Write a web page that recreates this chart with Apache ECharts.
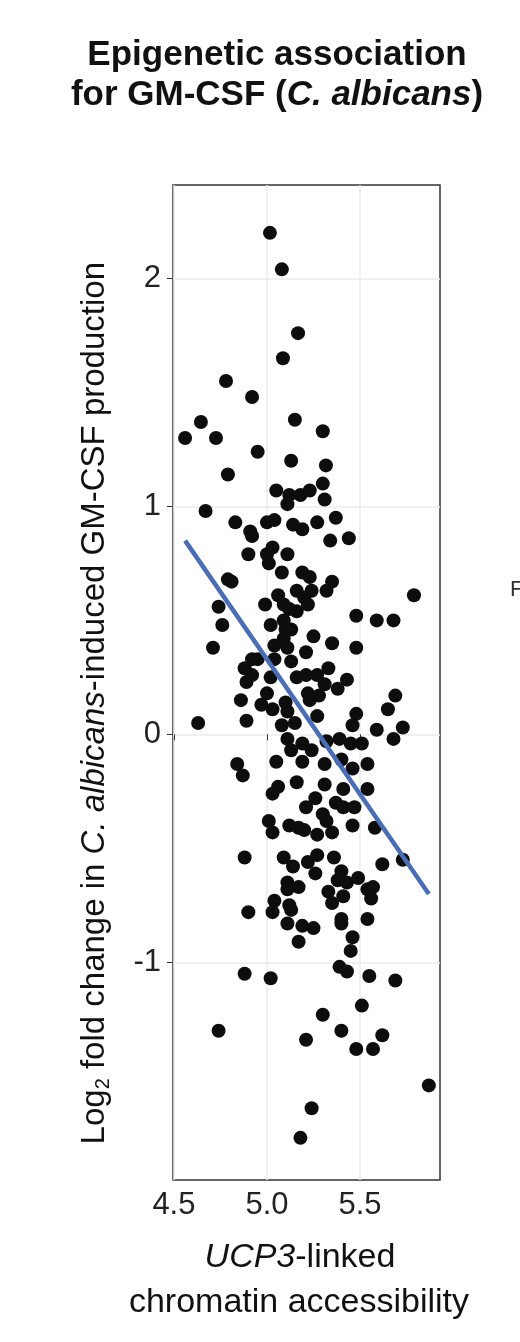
<!DOCTYPE html>
<html><head><meta charset="utf-8">
<script src="https://cdn.jsdelivr.net/npm/echarts@6/dist/echarts.min.js"></script>
<style>html,body{margin:0;padding:0;background:#fff}#c{width:520px;height:1342px}</style>
</head><body><div id="c"></div>
<script>
const xs = [5.016,5.08,5.167,5.086,4.78,4.92,4.645,4.56,4.726,5.15,5.30,4.95,5.13,5.317,4.79,5.05,5.12,5.18,5.23,5.30,5.31,5.11,4.67,
4.83,4.91,4.92,5.00,5.04,5.14,5.19,5.27,5.37,5.34,5.44,4.90,5.00,5.03,5.11,5.01,5.08,5.19,5.23,5.35,4.79,4.81,5.16,5.24,5.32,5.06,5.20,5.22,4.99,5.09,5.12,5.16,4.74,5.79,5.48,5.59,5.68,4.76,5.02,5.09,5.10,5.13,5.09,5.25,5.35,4.71,5.04,5.11,5.21,5.48,4.95,4.92,5.04,5.13,4.88,4.92,4.89,5.02,5.16,5.21,5.27,5.33,5.43,5.31,5.38,5.22,5.00,4.86,5.23,5.28,5.69,4.97,5.10,5.03,5.11,5.65,5.48,5.27,4.63,4.89,5.08,5.15,5.46,5.59,5.73,5.11,5.68,5.19,5.32,5.39,5.45,5.51,5.13,5.24,4.84,4.87,5.05,5.19,5.31,5.40,5.46,5.54,5.16,5.06,5.03,5.31,5.41,5.54,5.26,5.21,5.37,5.41,5.47,5.30,5.32,5.01,5.03,5.12,5.17,5.20,5.27,5.35,5.46,5.58,
4.88,5.09,5.14,5.22,5.27,5.26,5.36,5.40,5.38,5.43,5.49,5.62,5.73,5.11,5.11,5.17,5.33,5.41,5.35,5.54,5.56,5.57,5.04,5.12,5.13,4.90,5.03,5.11,5.19,5.25,5.40,5.40,5.54,5.17,5.46,5.45,5.39,5.43,5.55,5.69,4.88,5.02,5.51,5.30,4.74,5.21,5.40,5.48,5.57,5.62,5.87,5.24,5.18];
const ys = [2.20,2.04,1.76,1.65,1.55,1.48,1.37,1.30,1.30,1.38,1.33,1.24,1.20,1.18,1.14,1.07,1.05,1.05,1.07,1.10,1.03,1.01,0.98,
0.93,0.89,0.87,0.93,0.94,0.92,0.90,0.93,0.95,0.85,0.86,0.79,0.79,0.82,0.79,0.75,0.71,0.71,0.69,0.67,0.68,0.67,0.63,0.63,0.63,0.61,0.60,0.57,0.57,0.57,0.55,0.54,0.56,0.61,0.52,0.50,0.50,0.48,0.48,0.50,0.46,0.46,0.42,0.43,0.40,0.38,0.39,0.38,0.36,0.38,0.33,0.33,0.33,0.32,0.29,0.26,0.23,0.25,0.25,0.26,0.26,0.29,0.24,0.22,0.20,0.18,0.18,0.15,0.15,0.17,0.17,0.13,0.14,0.11,0.10,0.11,0.09,0.08,0.05,0.06,0.04,0.05,0.04,0.02,0.03,-0.02,-0.02,-0.04,-0.03,-0.02,-0.04,-0.04,-0.07,-0.07,-0.13,-0.18,-0.12,-0.12,-0.13,-0.11,-0.15,-0.13,-0.21,-0.23,-0.26,-0.22,-0.24,-0.24,-0.28,-0.32,-0.30,-0.32,-0.32,-0.35,-0.38,-0.38,-0.43,-0.40,-0.41,-0.42,-0.44,-0.43,-0.40,-0.41,
-0.54,-0.54,-0.58,-0.56,-0.53,-0.61,-0.54,-0.60,-0.64,-0.65,-0.63,-0.57,-0.55,-0.65,-0.68,-0.67,-0.69,-0.71,-0.74,-0.68,-0.72,-0.67,-0.73,-0.75,-0.77,-0.78,-0.78,-0.83,-0.84,-0.85,-0.81,-0.83,-0.81,-0.91,-0.89,-0.95,-1.02,-1.04,-1.06,-1.08,-1.05,-1.07,-1.19,-1.23,-1.30,-1.34,-1.30,-1.38,-1.38,-1.32,-1.54,-1.64,-1.77];
const fitX = [4.56, 5.87];
const fitY = [0.85, -0.70];
const xTicks = [4.5, 5.0, 5.5];
const yTicks = [-1, 0, 1, 2];

const chart = echarts.init(document.getElementById('c'), null, {renderer:'canvas'});
const F = 'Liberation Sans, Arial, sans-serif';
chart.setOption({
  backgroundColor:'#fff',
  animation:false,
  title:{
    text:'Epigenetic association\nfor GM-CSF ({i|C. albicans})',
    left:272, top:30, textAlign:'center',
    textStyle:{fontFamily:F,fontSize:35,fontWeight:'bold',color:'#111',lineHeight:40,
      rich:{i:{fontFamily:F,fontSize:35,fontWeight:'bold',fontStyle:'italic',color:'#111',lineHeight:40}}}
  },
  grid:{left:173,right:80,top:185,bottom:162,show:true,borderColor:'#333',borderWidth:1.5,backgroundColor:'#fff'},
  xAxis:{type:'value',min:4.495,max:5.93,interval:0.25,
    axisLine:{show:false},axisTick:{show:true,length:6,lineStyle:{color:'#333'},customValues:xTicks},
    splitLine:{show:true,lineStyle:{color:'#ebebeb',width:1.5}},
    axisLabel:{customValues:xTicks,formatter:v=>v.toFixed(1),fontFamily:F,fontSize:31,color:'#222',margin:10}},
  yAxis:{type:'value',min:-1.955,max:2.41,
    axisLine:{show:false},axisTick:{show:true,length:6,lineStyle:{color:'#333'},customValues:yTicks},
    splitLine:{show:true,lineStyle:{color:'#ebebeb',width:1.5}},
    axisLabel:{customValues:yTicks,fontFamily:F,fontSize:31,color:'#222',margin:12}},
  series:[
    {type:'scatter',data:xs.map((x,i)=>[x,ys[i]]),symbolSize:14,itemStyle:{color:'#0d0d0d',opacity:1},z:2},
    {type:'line',data:fitX.map((x,i)=>[x,fitY[i]]),symbol:'none',lineStyle:{color:'#4a6db4',width:4.5},z:3}
  ],
  graphic:[
    {type:'text',left:78,top:262,rotation:Math.PI/2,
      style:{text:'Log{s|2} fold change in {i|C. albicans}-induced GM-CSF production',
        font:'33px '+F,fill:'#111',
        rich:{s:{fontSize:20,fontFamily:F,verticalAlign:'bottom',padding:[18,0,0,0],fill:'#111'},
              i:{fontSize:33,fontFamily:F,fontStyle:'italic',fill:'#111'}}}},
    {type:'text',style:{text:'{i|UCP3}-linked',x:300,y:1258,align:'center',verticalAlign:'middle',font:'34px '+F,fill:'#111',
      rich:{i:{fontSize:34,fontFamily:F,fontStyle:'italic',fill:'#111'}}}},
    {type:'text',style:{text:'chromatin accessibility',x:299,y:1303,align:'center',verticalAlign:'middle',font:'34px '+F,fill:'#111'}},
    {type:'text',style:{text:'F',x:510,y:590,align:'left',verticalAlign:'middle',font:'22px '+F,fill:'#333'}}
  ]
});
</script></body></html>
